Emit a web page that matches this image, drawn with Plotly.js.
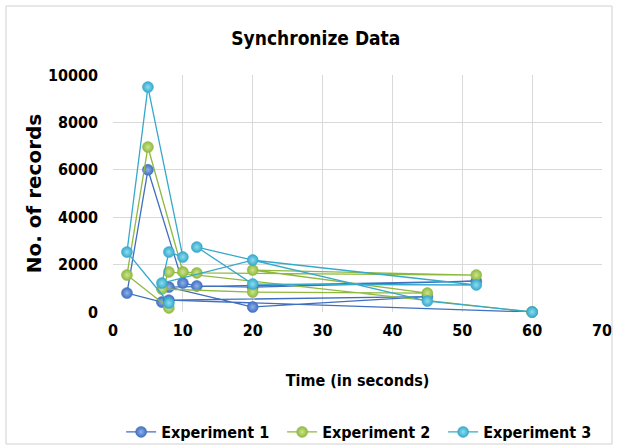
<!DOCTYPE html>
<html>
<head>
<meta charset="utf-8">
<script src="https://cdn.plot.ly/plotly-3.0.1.min.js"></script>
<style>html,body{margin:0;padding:0;background:#fff;}#chart{width:618px;height:448px;}</style>
</head>
<body>
<div id="chart"></div>
<script>
// Data (time in seconds, number of records), in plotting order
const exp1X = [7, 2, 5, 10, 12, 20, 52, 8, 20, 45, 8, 60];
const exp1Y = [420, 800, 6000, 1220, 1100, 1050, 1300, 1050, 210, 650, 500, 0];
const exp2X = [8, 2, 5, 10, 12, 52, 20, 45, 20, 7, 8, 60];
const exp2Y = [170, 1560, 6960, 1690, 1650, 1560, 1770, 800, 840, 970, 1690, 0];
const exp3X = [8, 2, 5, 10, 8, 7, 20, 52, 20, 12, 45, 60];
const exp3Y = [380, 2530, 9490, 2320, 2530, 1220, 2190, 1140, 1180, 2740, 460, 0];

const seriesNames = ['Experiment 1', 'Experiment 2', 'Experiment 3'];
const seriesColors = ['#3f6fbf', '#8fb83e', '#35a9cc'];
const markerHighlights = ['#8fb2ea', '#cde58e', '#8fdcf0'];
const xTicks = [0, 10, 20, 30, 40, 50, 60, 70];
const yTicks = [0, 2000, 4000, 6000, 8000, 10000];

const narrow = '"DejaVu Sans Condensed", "Liberation Sans Narrow", Roboto, sans-serif';
const xs = [exp1X, exp2X, exp3X];
const ys = [exp1Y, exp2Y, exp3Y];

const traces = seriesNames.map((n, i) => ({
  type: 'scatter',
  mode: 'lines+markers',
  name: n,
  x: xs[i],
  y: ys[i],
  cliponaxis: false,
  line: {color: seriesColors[i], width: 1.3},
  marker: {color: seriesColors[i], size: 11,
           gradient: {type: 'radial', color: markerHighlights[i]},
           line: {color: seriesColors[i], width: 0.5}}
}));

const layout = {
  width: 618, height: 448,
  margin: {l: 113, r: 16, t: 75, b: 136},
  paper_bgcolor: '#ffffff', plot_bgcolor: '#ffffff',
  title: {text: 'Synchronize Data', x: 0.511, xanchor: 'center', y: 0.915, yanchor: 'middle',
          font: {family: narrow, size: 19, color: '#000000', weight: 'bold'}},
  xaxis: {range: [0, 70], tickvals: xTicks, ticktext: xTicks.map(String), automargin: false,
          showgrid: true, gridcolor: '#d9d9d9', gridwidth: 1, zeroline: false,
          showline: false, ticks: '', ticklabelstandoff: 7,
          tickfont: {family: narrow, size: 16, color: '#000', weight: 'bold'},
          title: {text: 'Time (in seconds)', standoff: 35,
                  font: {family: narrow, size: 16, color: '#000', weight: 'bold'}}},
  yaxis: {range: [0, 10000], tickvals: yTicks, ticktext: yTicks.map(String), automargin: false,
          showgrid: true, gridcolor: '#d9d9d9', gridwidth: 1, zeroline: false,
          showline: false, ticks: '', ticklabelstandoff: 14,
          tickfont: {family: narrow, size: 16, color: '#000', weight: 'bold'},
          title: {text: 'No. of records', standoff: 0,
                  font: {family: '"DejaVu Sans", sans-serif', size: 20, color: '#000', weight: 'bold'}}},
  legend: {orientation: 'h', xref: 'container', x: 0.196, xanchor: 'left',
           yref: 'container', y: 0.0357, yanchor: 'middle',
           font: {family: narrow, size: 16, color: '#000', weight: 'bold'},
           itemwidth: 30, entrywidth: 116, bgcolor: 'rgba(0,0,0,0)'},
  shapes: [{type: 'rect', xref: 'paper', yref: 'paper',
            x0: (6 - 113) / 489, x1: (612 - 113) / 489,
            y0: (312 - 444) / 237, y1: (312 - 6) / 237,
            line: {color: '#d0d0d0', width: 1}}],
  showlegend: true
};

Plotly.newPlot('chart', traces, layout, {displayModeBar: false, staticPlot: true});
</script>
</body>
</html>
